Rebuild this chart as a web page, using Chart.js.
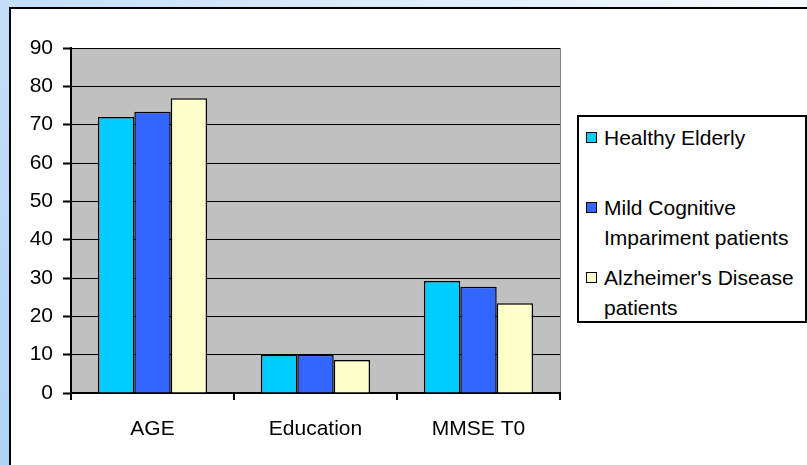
<!DOCTYPE html>
<html>
<head>
<meta charset="utf-8">
<script src="https://cdn.jsdelivr.net/npm/chart.js@4/dist/chart.umd.min.js"></script>
<style>
  html, body { margin: 0; padding: 0; }
  body {
    width: 807px; height: 465px; overflow: hidden; position: relative;
    background:
      linear-gradient(to bottom, rgba(255,255,255,0), rgba(110,175,240,0.25)),
      linear-gradient(to right, #c4def8, #f6faff);
    font-family: 'Liberation Sans', Arial, sans-serif;
  }
  #marco {
    position: absolute; left: 9px; top: 7px; right: 0; bottom: 0;
    background: #fff; border-left: 2px solid #000; border-top: 2px solid #000;
  }
  #contenedor { position: absolute; left: 0; top: 0; width: 807px; height: 465px; }
  #leyenda {
    position: absolute; left: 577px; top: 115px; width: 230px; height: 208px;
    box-sizing: border-box; border: 2px solid #000; background: #fff;
    padding-top: 6px;
  }
  .item { display: flex; align-items: flex-start; height: 70px; }
  .cuadro {
    width: 11px; height: 11px; box-sizing: border-box; border: 1px solid #000;
    margin-left: 7px; margin-top: 9px; flex: none;
  }
  .texto {
    margin-left: 7px; width: 198px; font-size: 21px; line-height: 30px; color: #000;
  }
</style>
</head>
<body>
<div id="marco"></div>
<div id="contenedor"><canvas id="grafica"></canvas></div>
<div id="leyenda"></div>
<script>
// datos
const categorias = ['AGE', 'Education', 'MMSE T0'];
const nombresSeries = ['Healthy Elderly', 'Mild Cognitive Impariment patients', "Alzheimer's Disease patients"];
const healthyElderly = [72, 10, 29.2];
const mciPacientes = [73.4, 10, 27.7];
const adPacientes = [76.9, 8.6, 23.4];
const ejeYMin = 0;
const ejeYMax = 90;
const ejeYPaso = 10;

const colores = [
  { fondo: '#00CCFF', borde: '#000' },
  { fondo: '#3366FF', borde: '#000' },
  { fondo: '#FFFFCC', borde: '#000' }
];

const valoresSeries = [healthyElderly, mciPacientes, adPacientes];

Chart.defaults.font.family = "'Liberation Sans', Arial, sans-serif";
Chart.defaults.font.size = 21;
Chart.defaults.color = '#000';

// fondo gris del area de trazado
const fondoArea = {
  id: 'fondoArea',
  beforeDraw(chart) {
    const { ctx, chartArea: a } = chart;
    ctx.save();
    ctx.fillStyle = '#C0C0C0';
    ctx.fillRect(a.left, a.top, a.right - a.left, a.bottom - a.top);
    ctx.strokeStyle = '#808080';
    ctx.lineWidth = 1;
    ctx.beginPath();
    ctx.moveTo(a.right + 0.5, a.top);
    ctx.lineTo(a.right + 0.5, a.bottom);
    ctx.stroke();
    ctx.restore();
  }
};

const datasets = valoresSeries.map((valores, i) => ({
  label: nombresSeries[i],
  data: valores,
  backgroundColor: colores[i].fondo,
  borderColor: colores[i].borde,
  borderWidth: 1.5,
  categoryPercentage: 0.67,
  barPercentage: 1
}));

const canvas = document.getElementById('grafica');
canvas.chart = new Chart(canvas.getContext('2d'), {
  type: 'bar',
  data: { labels: categorias, datasets },
  options: {
    responsive: true,
    maintainAspectRatio: false,
    animation: false,
    layout: { padding: { left: 0, top: 48, right: 247, bottom: 0 } },
    scales: {
      x: {
        grid: { drawOnChartArea: false, drawTicks: true, tickLength: 7, color: '#000', lineWidth: 2 },
        border: { display: true, color: '#000', width: 2 },
        ticks: { padding: 17, maxRotation: 0 },
        afterFit: (s) => { s.height = 72; }
      },
      y: {
        min: ejeYMin,
        max: ejeYMax,
        ticks: { stepSize: ejeYPaso, padding: 10 },
        grid: { color: '#000', lineWidth: 1, tickLength: 8, tickWidth: 2, tickColor: '#000' },
        border: { display: true, color: '#000', width: 2 },
        afterFit: (s) => { s.width = 71; }
      }
    },
    plugins: {
      legend: { display: false },
      tooltip: { enabled: false }
    }
  },
  plugins: [fondoArea]
});

// leyenda en HTML construida con los datasets
const leyenda = document.getElementById('leyenda');
datasets.forEach(ds => {
  const item = document.createElement('div');
  item.className = 'item';
  const cuadro = document.createElement('div');
  cuadro.className = 'cuadro';
  cuadro.style.background = ds.backgroundColor;
  const texto = document.createElement('div');
  texto.className = 'texto';
  texto.textContent = ds.label;
  item.appendChild(cuadro);
  item.appendChild(texto);
  leyenda.appendChild(item);
});
</script>
</body>
</html>
